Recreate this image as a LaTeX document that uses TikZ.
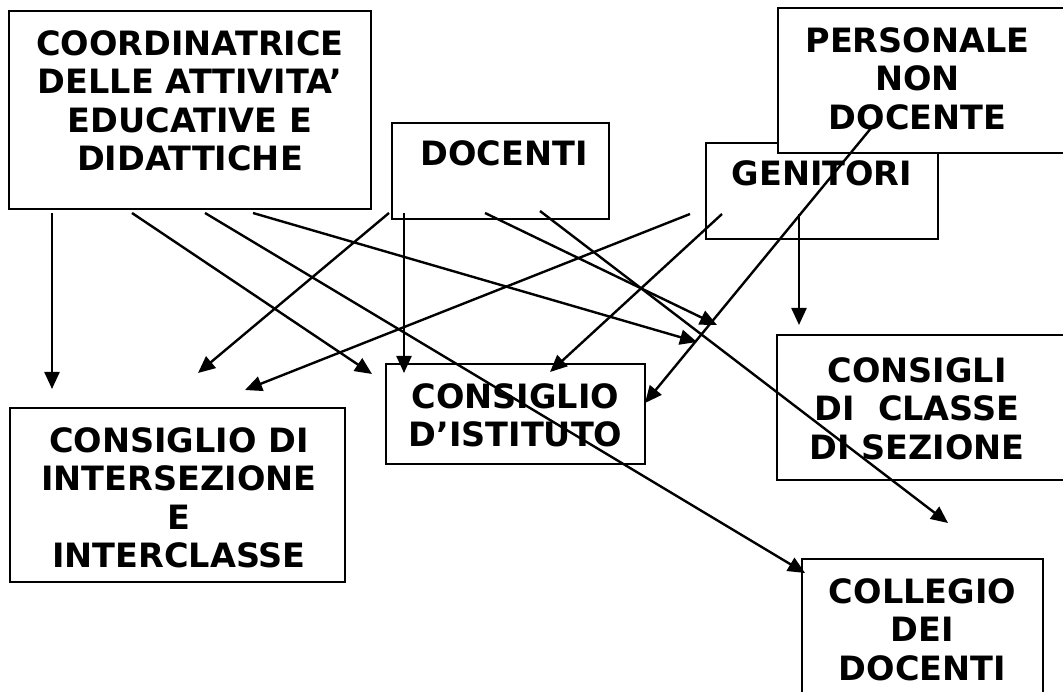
\documentclass[tikz,border=0pt]{standalone}
\usepackage{fontspec}
\setmainfont{DejaVu Sans}
\usetikzlibrary{arrows.meta,positioning}
\tikzset{
box/.style={draw, line width=2pt, fill=white, anchor=north west, inner sep=0pt},
lbl/.style={font=\bfseries\fontsize{33.5}{38.5}\selectfont, align=center, inner sep=0pt, anchor=north},
arr/.style={line width=2.4pt, -{Triangle[length=17pt,width=15pt]}}
}

\begin{document}
\begin{tikzpicture}[x=1pt,y=-1pt]
\useasboundingbox (0,0) rectangle (1063,692);
\clip (0,0) rectangle (1063,692);
\node[box, minimum width=362pt, minimum height=198pt](coord) at (8,10){};
\node[box, minimum width=217pt, minimum height=96pt](doc) at (391,122){};
\node[box, minimum width=232pt, minimum height=96pt](gen) at (705,142){};
\node[box, minimum width=303pt, minimum height=145pt](pers) at (777,7){};
\node[box, minimum width=304pt, minimum height=145pt](classe) at (776,334){};
\node[box, minimum width=259pt, minimum height=100pt](ist) at (385,363){};
\node[box, minimum width=335pt, minimum height=174pt](inter) at (9,407){};
\node[box, minimum width=241pt, minimum height=162pt](coll) at (801,558){};

\node[lbl, below=20pt of coord.north](coordt){COORDINATRICE\\DELLE ATTIVITA’\\EDUCATIVE E\\DIDATTICHE};
\node[lbl, below=18pt of doc.north, xshift=3.5pt](doct){DOCENTI};
\node[lbl, below=18pt of gen.north](gent){GENITORI};
\node[lbl, below=20pt of pers.north, xshift=-12pt](perst){PERSONALE\\NON\\DOCENTE};
\node[lbl, below=23pt of classe.north, xshift=-12pt](classet){CONSIGLI\\DI~~CLASSE\\DI SEZIONE};
\node[lbl, below=20pt of ist.north](istt){CONSIGLIO\\D’ISTITUTO};
\node[lbl, below=20pt of inter.north, xshift=1.5pt](intert){CONSIGLIO DI\\INTERSEZIONE\\E\\INTERCLASSE};
\node[lbl, below=20pt of coll.north](collt){COLLEGIO\\DEI\\DOCENTI};

\coordinate (c1) at (52,213);
\coordinate (c2) at (132,213);
\coordinate (c3) at (205,213);
\coordinate (c4) at (253,213);
\coordinate (d1) at (389,213);
\coordinate (d2) at (404,213);
\coordinate (d3) at (485,213);
\coordinate (d4) at (540,211);
\coordinate (g1) at (690,214);
\coordinate (g2) at (722,214);
\coordinate (g3) at (799,214);
\coordinate (p1) at (872,127);
\coordinate (i1) at (52,389);
\coordinate (i2) at (198,373);
\coordinate (i3) at (245,390);
\coordinate (s1) at (372,374);
\coordinate (s2) at (404,373);
\coordinate (s3) at (550,372);
\coordinate (s4) at (645,403);
\coordinate (k1) at (697,342);
\coordinate (k2) at (717,325);
\coordinate (k3) at (799,325);
\coordinate (o1) at (805,573);
\coordinate (o2) at (948,523);

\draw[arr] (c1) -- (i1);
\draw[arr] (c2) -- (s1);
\draw[arr] (c3) -- (o1);
\draw[arr] (c4) -- (k1);
\draw[arr] (d1) -- (i2);
\draw[arr] (d2) -- (s2);
\draw[arr] (d3) -- (k2);
\draw[arr] (d4) -- (o2);
\draw[arr] (g1) -- (i3);
\draw[arr] (g2) -- (s3);
\draw[arr] (g3) -- (k3);
\draw[arr] (p1) -- (s4);
\end{tikzpicture}
\end{document}
